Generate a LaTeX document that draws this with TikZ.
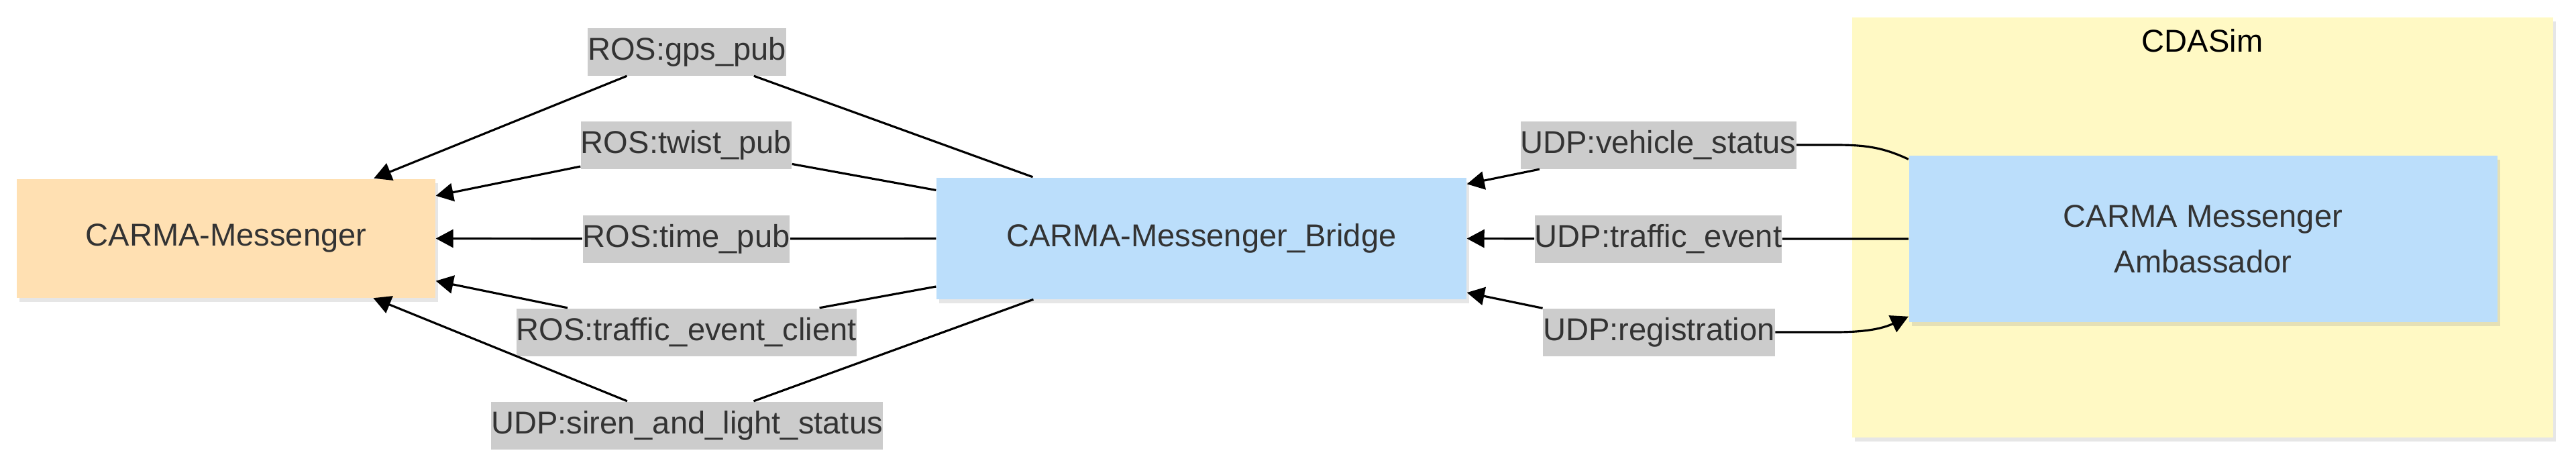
\documentclass[tikz,border=0pt]{standalone}
\usepackage{fontspec}
\setmainfont{Liberation Sans}
\usetikzlibrary{arrows.meta,shadows}
\definecolor{msgfill}{HTML}{FFE0B2}
\definecolor{brfill}{HTML}{BBDEFB}
\definecolor{simfill}{HTML}{FFF9C4}
\definecolor{lblfill}{HTML}{CCCCCC}
\definecolor{txt}{HTML}{333333}
\begin{document}
\begin{tikzpicture}[
  >={Triangle[length=2.6mm,width=2.7mm]},
  font=\fontsize{13.4}{19.4}\selectfont,
  box/.style={rectangle, text=txt, inner sep=0pt, drop shadow={opacity=0.2,shadow xshift=0.4mm,shadow yshift=-0.6mm}},
  lbl/.style={fill=lblfill, text=txt, inner xsep=0pt, minimum height=0.71cm},
  link/.style={line width=0.9pt, black}
]
\useasboundingbox (0,0) rectangle (38.4,6.92);
% Boxes
\node[box, fill=simfill, minimum width=10.45cm, minimum height=6.26cm] (cdasim) at (32.83,3.53) {};
\node[text=black] (cdasimtitle) at (32.83,6.31) {CDASim};
\node[box, fill=msgfill, minimum width=6.24cm, minimum height=1.77cm] (msg) at (3.37,3.37) {CARMA-Messenger};
\node[box, fill=brfill, minimum width=7.9cm, minimum height=1.81cm] (bridge) at (17.91,3.37) {CARMA-Messenger\_Bridge};
\node[box, fill=brfill, minimum width=8.77cm, minimum height=2.48cm, align=center] (amb) at (32.84,3.36) {CARMA Messenger\\Ambassador};
% ROS labels
\node[lbl] (gps) at (10.24,6.15) {ROS:gps\_pub};
\node[lbl] (twist) at (10.23,4.76) {ROS:twist\_pub};
\node[lbl] (time) at (10.23,3.36) {ROS:time\_pub};
\node[lbl] (tec) at (10.23,1.97) {ROS:traffic\_event\_client};
\node[lbl] (siren) at (10.24,0.58) {UDP:siren\_and\_light\_status};
% UDP labels
\node[lbl] (vs) at (24.72,4.76) {UDP:vehicle\_status};
\node[lbl] (te) at (24.72,3.36) {UDP:traffic\_event};
\node[lbl] (reg) at (24.73,1.97) {UDP:registration};
% Bridge -> Messenger
\draw[link,->] (bridge) -- (gps) -- (msg);
\draw[link,->] (bridge) -- (twist) -- (msg);
\draw[link,->] (bridge) -- (time) -- (msg);
\draw[link,->] (bridge) -- (tec) -- (msg);
\draw[link,->] (bridge) -- (siren) -- (msg);
% Ambassador <-> Bridge
\draw[link,->] (vs) -- (bridge);
\draw[link] (vs.east) -- ++(0.57,0) to[out=0,in=155] ([yshift=-0.6mm]amb.north west);
\draw[link,->] (amb) -- (te) -- (bridge);
\draw[link,->] (reg) -- (bridge);
\draw[link,->] (reg.east) -- ++(0.89,0) to[out=0,in=205] ([yshift=0.9mm]amb.south west);
\end{tikzpicture}
\end{document}
